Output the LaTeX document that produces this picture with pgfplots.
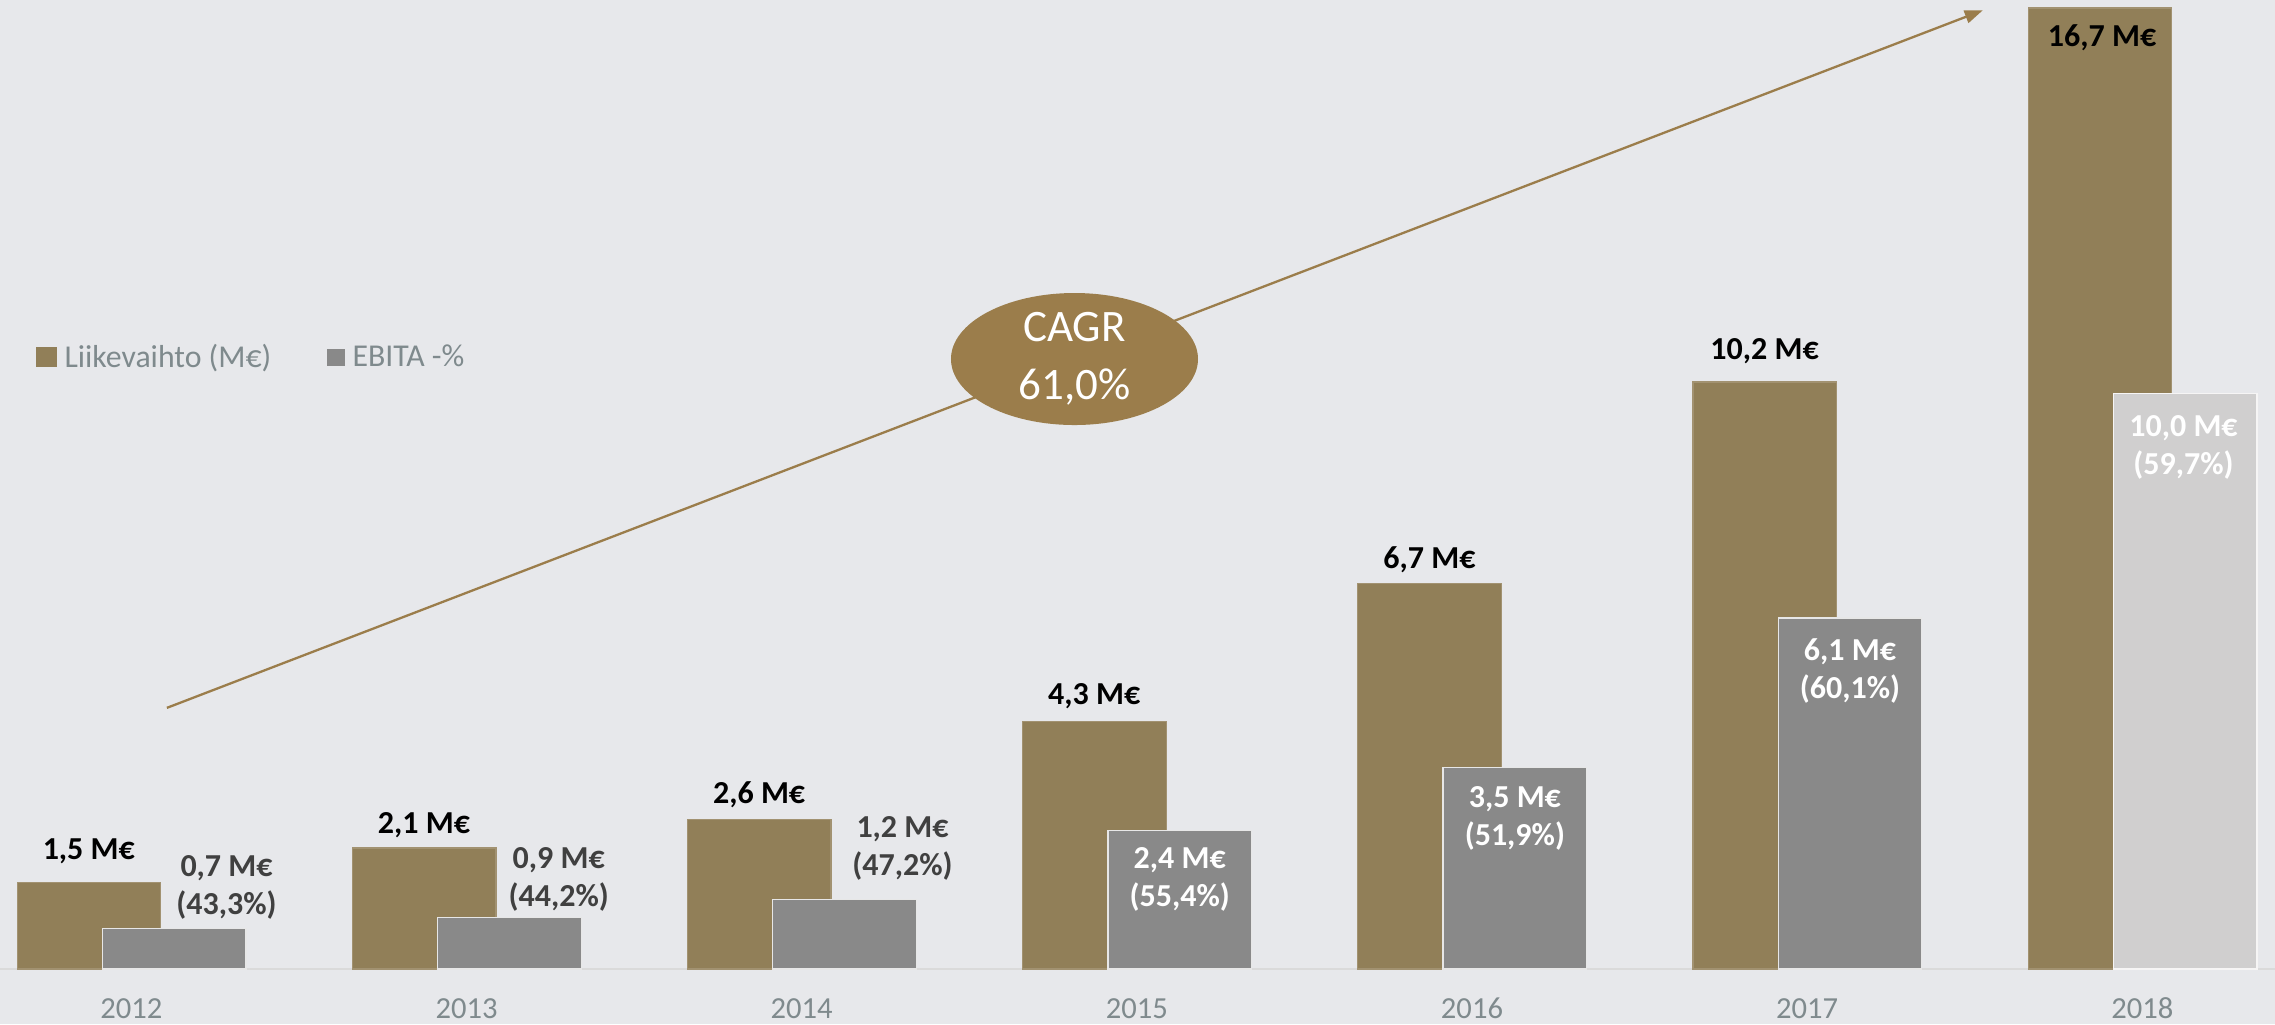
\documentclass[border=0pt]{standalone}
\usepackage{fontspec}
\setmainfont{Carlito}
\usepackage{pgfplots}
\pgfplotsset{compat=1.18}
\usepackage{pgfplotstable}
\usetikzlibrary{arrows.meta}

\definecolor{bg}{HTML}{E7E8EB}
\definecolor{goldbar}{HTML}{917F58}
\definecolor{goldline}{HTML}{9B7D4B}
\definecolor{graybar}{HTML}{898989}
\definecolor{lightbar}{HTML}{D0CFCF}
\definecolor{axtext}{HTML}{7F8A8D}
\definecolor{darklbl}{HTML}{404040}
\definecolor{basecol}{HTML}{DADADA}

% year index, Liikevaihto (M EUR), EBITA (M EUR)
\pgfplotstableread{
x rev ebita
0 1.5 0.7
1 2.1 0.9
2 2.6 1.2
3 4.3 2.4
4 6.7 3.5
5 10.2 6.1
6 16.7 10.0
}\data

\newcommand\lblfont{\fontsize{16}{19}\selectfont\bfseries}

\begin{document}
\begin{tikzpicture}[
  goldlbl/.style={font=\lblfont, text=black},
  darkl/.style={font=\lblfont, text=darklbl, align=center},
  whitel/.style={font=\lblfont, text=white, align=center},
]
\begin{axis}[
  scale only axis, width=1137.5pt, height=512pt,
  xmin=-0.392, xmax=6.396, ymin=-0.958, ymax=16.84,
  axis background/.style={fill=bg},
  axis line style={draw=none}, tick style={draw=none},
  ytick=\empty, xtick={0,...,6},
  xticklabels={2012,2013,2014,2015,2016,2017,2018},
  xticklabel style={anchor=center, yshift=12pt, text=axtext,
    font=\fontsize{15.3}{18}\selectfont},
  ybar, bar width=71.8pt,
  clip=false,
  legend style={at={(0.0158,0.651)}, anchor=west, draw=none, fill=none,
    inner sep=0pt, font=\fontsize{15.9}{18}\selectfont, text=axtext,
    /tikz/every odd column/.append style={column sep=2.5pt},
    /tikz/every even column/.append style={column sep=26.5pt},
    nodes={inner sep=1.5pt}},
  legend columns=2, legend cell align=left,
]

\draw[basecol, line width=0.8pt] (axis cs:-0.392,0) -- (axis cs:6.396,0);

\addplot[fill=goldbar, draw=goldbar!85!white, line width=0.6pt, bar shift=-21.2pt,
  legend image code/.code={\fill[goldbar] (0pt,-4.75pt) rectangle (9.5pt,4.75pt);}]
  table[x=x, y=rev] {\data};
\addlegendentry{Liikevaihto (M€)}

\addplot[fill=graybar, draw=white!80!graybar, line width=0.6pt, bar shift=21.45pt,
  restrict x to domain=-1:5.5,
  legend image code/.code={\fill[graybar] (0pt,-4pt) rectangle (8pt,4pt);}]
  table[x=x, y=ebita] {\data};
\addlegendentry{EBITA -\%}

\addplot[forget plot, fill=lightbar, draw=white!80!lightbar, line width=0.6pt,
  bar shift=21.45pt, restrict x to domain=5.5:6.5]
  table[x=x, y=ebita] {\data};

% CAGR arrow and bubble
\draw[goldline, line width=1.15pt, -{Triangle[length=9pt,width=6.5pt]}]
  (axis cs:0.106,4.537) -- (axis cs:5.524,16.66);
\fill[goldline] (axis cs:2.814,10.60) ellipse [x radius=61.75pt, y radius=33pt];
\node[text=white, align=center, font=\fontsize{22.5}{29}\selectfont]
  at (axis cs:2.814,10.60) {CAGR\\61,0\%};

% revenue labels
\node[goldlbl] at (axis cs:-0.127,2.04) {1,5 M€};
\node[goldlbl] at (axis cs:0.873,2.50) {2,1 M€};
\node[goldlbl] at (axis cs:1.873,3.02) {2,6 M€};
\node[goldlbl] at (axis cs:2.873,4.74) {4,3 M€};
\node[goldlbl] at (axis cs:3.873,7.11) {6,7 M€};
\node[goldlbl] at (axis cs:4.873,10.74) {10,2 M€};
\node[goldlbl] at (axis cs:5.88,16.19) {16,7 M€};

% EBITA labels
\node[darkl] at (axis cs:0.284,1.41) {0,7 M€\\(43,3\%)};
\node[darkl] at (axis cs:1.275,1.56) {0,9 M€\\(44,2\%)};
\node[darkl] at (axis cs:2.301,2.09) {1,2 M€\\(47,2\%)};
\node[whitel] at (axis cs:3.128,1.56) {2,4 M€\\(55,4\%)};
\node[whitel] at (axis cs:4.128,2.62) {3,5 M€\\(51,9\%)};
\node[whitel] at (axis cs:5.128,5.18) {6,1 M€\\(60,1\%)};
\node[whitel] at (axis cs:6.123,9.06) {10,0 M€\\(59,7\%)};

\end{axis}
\pgfresetboundingbox
\useasboundingbox (current axis.south west) rectangle (current axis.north east);
\end{tikzpicture}
\end{document}
